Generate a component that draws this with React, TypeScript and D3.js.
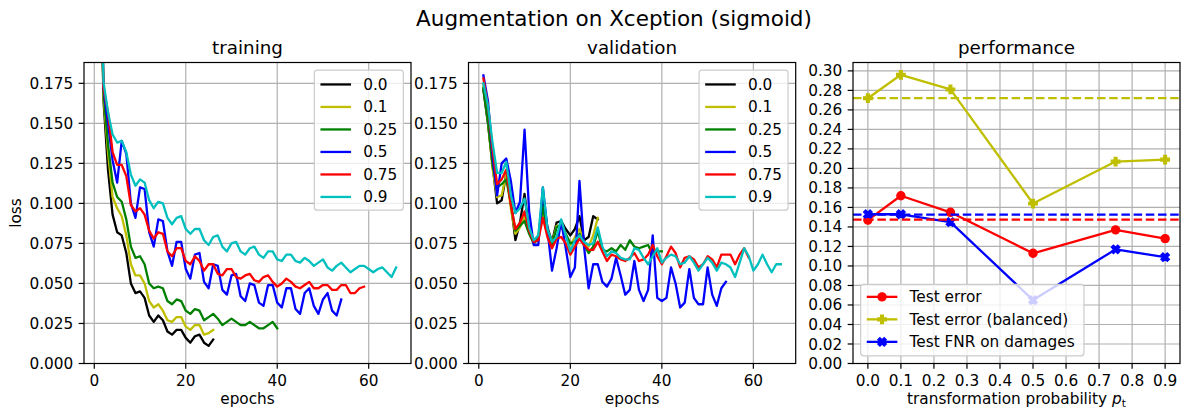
import React from 'react';
import * as d3 from 'd3';

// ---------------- data ----------------
const probLabels = ['0.0', '0.1', '0.25', '0.5', '0.75', '0.9'];
const seriesColors = ['#000000', '#bfbf00', '#008000', '#0000ff', '#ff0000', '#00bfbf'];

const epochTicks = [0, 20, 40, 60];
const lossTicks = [0, 0.025, 0.05, 0.075, 0.1, 0.125, 0.15, 0.175];

// training loss, epochs start at 1
const trainP00 = [0.32, 0.165, 0.121, 0.093, 0.082, 0.080, 0.069, 0.050, 0.044, 0.045, 0.041, 0.030, 0.026, 0.030, 0.027, 0.020, 0.018, 0.021, 0.021, 0.016, 0.013, 0.017, 0.018, 0.013, 0.011, 0.015];
const trainP01 = [0.32, 0.167, 0.132, 0.104, 0.097, 0.092, 0.080, 0.062, 0.055, 0.055, 0.050, 0.039, 0.035, 0.037, 0.033, 0.027, 0.026, 0.029, 0.029, 0.023, 0.021, 0.024, 0.024, 0.018, 0.019, 0.021];
const trainP025 = [0.32, 0.170, 0.137, 0.113, 0.104, 0.101, 0.090, 0.073, 0.066, 0.067, 0.062, 0.050, 0.047, 0.048, 0.047, 0.039, 0.037, 0.040, 0.039, 0.033, 0.031, 0.034, 0.033, 0.027, 0.029, 0.031, 0.028, 0.024, 0.026, 0.028, 0.026, 0.024, 0.024, 0.026, 0.024, 0.022, 0.022, 0.024, 0.026, 0.022];
const trainP05 = [0.33, 0.172, 0.150, 0.127, 0.113, 0.139, 0.131, 0.100, 0.091, 0.110, 0.109, 0.082, 0.073, 0.090, 0.089, 0.070, 0.061, 0.076, 0.076, 0.059, 0.053, 0.068, 0.069, 0.051, 0.047, 0.062, 0.061, 0.046, 0.043, 0.055, 0.056, 0.042, 0.039, 0.050, 0.049, 0.038, 0.036, 0.049, 0.049, 0.038, 0.035, 0.047, 0.047, 0.034, 0.031, 0.044, 0.047, 0.036, 0.031, 0.040, 0.044, 0.033, 0.030, 0.040];
const trainP075 = [0.33, 0.172, 0.157, 0.132, 0.124, 0.124, 0.117, 0.099, 0.095, 0.097, 0.093, 0.083, 0.078, 0.082, 0.081, 0.070, 0.067, 0.072, 0.072, 0.064, 0.062, 0.067, 0.064, 0.058, 0.062, 0.062, 0.056, 0.055, 0.059, 0.059, 0.054, 0.053, 0.055, 0.056, 0.052, 0.051, 0.054, 0.055, 0.051, 0.048, 0.050, 0.053, 0.051, 0.048, 0.047, 0.049, 0.051, 0.047, 0.047, 0.049, 0.049, 0.046, 0.046, 0.049, 0.049, 0.044, 0.044, 0.047, 0.048];
const trainP09 = [0.34, 0.176, 0.157, 0.143, 0.138, 0.139, 0.132, 0.118, 0.111, 0.115, 0.113, 0.102, 0.097, 0.101, 0.100, 0.091, 0.087, 0.091, 0.092, 0.084, 0.081, 0.084, 0.084, 0.077, 0.074, 0.079, 0.080, 0.073, 0.070, 0.075, 0.076, 0.070, 0.068, 0.072, 0.073, 0.068, 0.066, 0.070, 0.070, 0.065, 0.064, 0.068, 0.068, 0.064, 0.063, 0.066, 0.064, 0.061, 0.063, 0.065, 0.060, 0.058, 0.061, 0.063, 0.060, 0.057, 0.059, 0.061, 0.061, 0.059, 0.057, 0.059, 0.060, 0.057, 0.054, 0.060];

// validation loss, epochs start at 1
const valP00 = [0.171, 0.150, 0.124, 0.100, 0.102, 0.119, 0.100, 0.077, 0.088, 0.106, 0.083, 0.076, 0.077, 0.104, 0.085, 0.076, 0.088, 0.089, 0.084, 0.080, 0.084, 0.092, 0.077, 0.079, 0.092, 0.090];
const valP01 = [0.174, 0.151, 0.122, 0.104, 0.105, 0.118, 0.097, 0.081, 0.085, 0.092, 0.083, 0.075, 0.079, 0.094, 0.082, 0.075, 0.086, 0.085, 0.080, 0.074, 0.079, 0.084, 0.076, 0.073, 0.080, 0.091];
const valP025 = [0.172, 0.151, 0.124, 0.110, 0.112, 0.115, 0.100, 0.083, 0.086, 0.089, 0.081, 0.075, 0.078, 0.098, 0.082, 0.074, 0.085, 0.087, 0.081, 0.075, 0.076, 0.081, 0.074, 0.069, 0.073, 0.083, 0.071, 0.070, 0.072, 0.070, 0.074, 0.071, 0.077, 0.073, 0.072, 0.073, 0.074, 0.068, 0.070, 0.070];
const valP05 = [0.180, 0.164, 0.130, 0.105, 0.125, 0.128, 0.114, 0.094, 0.101, 0.146, 0.095, 0.074, 0.074, 0.110, 0.084, 0.058, 0.072, 0.089, 0.072, 0.054, 0.060, 0.114, 0.073, 0.047, 0.062, 0.062, 0.051, 0.048, 0.053, 0.066, 0.055, 0.043, 0.046, 0.064, 0.046, 0.039, 0.046, 0.080, 0.041, 0.039, 0.041, 0.060, 0.050, 0.035, 0.038, 0.059, 0.041, 0.037, 0.037, 0.060, 0.043, 0.036, 0.047, 0.051];
const valP075 = [0.178, 0.161, 0.134, 0.112, 0.115, 0.121, 0.099, 0.084, 0.088, 0.095, 0.083, 0.076, 0.077, 0.091, 0.079, 0.072, 0.078, 0.079, 0.075, 0.068, 0.073, 0.078, 0.074, 0.071, 0.071, 0.076, 0.070, 0.064, 0.068, 0.067, 0.065, 0.064, 0.066, 0.069, 0.064, 0.065, 0.068, 0.074, 0.067, 0.062, 0.067, 0.073, 0.069, 0.060, 0.066, 0.067, 0.065, 0.060, 0.062, 0.067, 0.065, 0.060, 0.068, 0.068, 0.068, 0.062, 0.068, 0.072, 0.066];
const valP09 = [0.175, 0.161, 0.138, 0.119, 0.119, 0.126, 0.105, 0.094, 0.097, 0.103, 0.085, 0.077, 0.080, 0.110, 0.084, 0.076, 0.079, 0.090, 0.080, 0.070, 0.077, 0.080, 0.076, 0.074, 0.075, 0.085, 0.073, 0.067, 0.070, 0.069, 0.066, 0.065, 0.065, 0.072, 0.071, 0.066, 0.062, 0.067, 0.072, 0.063, 0.066, 0.068, 0.067, 0.062, 0.063, 0.067, 0.063, 0.058, 0.062, 0.066, 0.063, 0.058, 0.063, 0.062, 0.060, 0.054, 0.063, 0.072, 0.067, 0.058, 0.062, 0.068, 0.062, 0.057, 0.062, 0.062];

const trainSeries = [trainP00, trainP01, trainP025, trainP05, trainP075, trainP09];
const valSeries = [valP00, valP01, valP025, valP05, valP075, valP09];

// performance
const perfX = [0.0, 0.1, 0.25, 0.5, 0.75, 0.9];
const testError = [0.147, 0.172, 0.155, 0.113, 0.137, 0.128];
const testErrorBalanced = [0.272, 0.296, 0.281, 0.164, 0.207, 0.209];
const testFNR = [0.153, 0.153, 0.145, 0.065, 0.117, 0.109];
const baseError = 0.1476;
const baseBalanced = 0.272;
const baseFNR = 0.1527;
const perfXTicks = [0, 0.1, 0.2, 0.3, 0.4, 0.5, 0.6, 0.7, 0.8, 0.9];
const perfYTicks = [0, 0.02, 0.04, 0.06, 0.08, 0.1, 0.12, 0.14, 0.16, 0.18, 0.2, 0.22, 0.24, 0.26, 0.28, 0.3];
const perfLabels = ['Test error', 'Test error (balanced)', 'Test FNR on damages'];

// ---------------- style / layout ----------------
const W = 1181;
const H = 414;
const FF = "'DejaVu Sans', Verdana, sans-serif";
const FS = 15.3;
const TOP = 62.5;
const BOTTOM = 363.5;
const TICK = 5.35;
const PAD = 5.35;
const LW = 2.3;
const GRID = '#b0b0b0';
const SPINE_W = 1.2;

function TickLabelsY({ x0, ticks, y, fmt }: any) {
  return (
    <g>
      {ticks.map((t: number) => (
        <g key={t}>
          <line x1={x0 - TICK} x2={x0} y1={y(t)} y2={y(t)} stroke="#000" strokeWidth={SPINE_W} />
          <text x={x0 - TICK - PAD} y={y(t)} dy="0.36em" textAnchor="end" fontSize={FS} fontFamily={FF} fill="#000">
            {fmt(t)}
          </text>
        </g>
      ))}
    </g>
  );
}

function TickLabelsX({ ticks, x, fmt }: any) {
  return (
    <g>
      {ticks.map((t: number) => (
        <g key={t}>
          <line x1={x(t)} x2={x(t)} y1={BOTTOM} y2={BOTTOM + TICK} stroke="#000" strokeWidth={SPINE_W} />
          <text x={x(t)} y={BOTTOM + TICK + PAD + 11.4} textAnchor="middle" fontSize={FS} fontFamily={FF} fill="#000">
            {fmt(t)}
          </text>
        </g>
      ))}
    </g>
  );
}

function LossPanel({ left, right, title, series, ylabel, clipId }: any) {
  const x = d3.scaleLinear().domain([-2.25, 69.25]).range([left, right]);
  const y = d3.scaleLinear().domain([0, 0.188]).range([BOTTOM, TOP]);
  const line = d3.line<number>().x((_, i) => x(i + 1)).y((d) => y(d));
  const fmt = d3.format('.3f');
  const lgW = 89;
  const lgH = 140;
  const lgX = right - 7.65 - lgW;
  const lgY = TOP + 7.65;
  return (
    <g>
      <defs>
        <clipPath id={clipId}>
          <rect x={left} y={TOP} width={right - left} height={BOTTOM - TOP} />
        </clipPath>
      </defs>
      {epochTicks.map((t) => (
        <line key={'gx' + t} x1={x(t)} x2={x(t)} y1={TOP} y2={BOTTOM} stroke={GRID} strokeWidth={1.2} />
      ))}
      {lossTicks.map((t) => (
        <line key={'gy' + t} x1={left} x2={right} y1={y(t)} y2={y(t)} stroke={GRID} strokeWidth={1.2} />
      ))}
      <g clipPath={`url(#${clipId})`}>
        {series.map((s: number[], i: number) => (
          <path key={i} d={line(s) || ''} fill="none" stroke={seriesColors[i]} strokeWidth={LW} strokeLinejoin="round" strokeLinecap="square" />
        ))}
      </g>
      <rect x={left} y={TOP} width={right - left} height={BOTTOM - TOP} fill="none" stroke="#000" strokeWidth={SPINE_W} />
      <TickLabelsY x0={left} ticks={lossTicks} y={y} fmt={fmt} />
      <TickLabelsX ticks={epochTicks} x={x} fmt={(t: number) => String(t)} />
      <text x={(left + right) / 2} y={404} textAnchor="middle" fontSize={FS} fontFamily={FF}>epochs</text>
      <text x={(left + right) / 2} y={53.5} textAnchor="middle" fontSize={18.3} fontFamily={FF}>{title}</text>
      {ylabel && (
        <text transform={`translate(20.5, ${(TOP + BOTTOM) / 2}) rotate(-90)`} textAnchor="middle" fontSize={FS} fontFamily={FF}>
          {ylabel}
        </text>
      )}
      {/* legend */}
      <g>
        <rect x={lgX} y={lgY} width={lgW} height={lgH} rx={3} fill="#fff" fillOpacity={0.8} stroke="#cccccc" strokeWidth={1.2} />
        {probLabels.map((lab, i) => {
          const cy = lgY + 14.3 + i * 22.5;
          return (
            <g key={lab}>
              <line x1={lgX + 6.1} x2={lgX + 6.1 + 30.6} y1={cy} y2={cy} stroke={seriesColors[i]} strokeWidth={LW} />
              <text x={lgX + 6.1 + 30.6 + 12.2} y={cy} dy="0.36em" fontSize={FS} fontFamily={FF}>{lab}</text>
            </g>
          );
        })}
      </g>
    </g>
  );
}

function plusPath(cx: number, cy: number, s: number) {
  const a = s / 6;
  const pts = [[-1, -3], [1, -3], [1, -1], [3, -1], [3, 1], [1, 1], [1, 3], [-1, 3], [-1, 1], [-3, 1], [-3, -1], [-1, -1]];
  return 'M' + pts.map((p) => `${cx + p[0] * a},${cy + p[1] * a}`).join('L') + 'Z';
}
function xPath(cx: number, cy: number, s: number) {
  const b = s / 4;
  const pts = [[-1, -2], [0, -1], [1, -2], [2, -1], [1, 0], [2, 1], [1, 2], [0, 1], [-1, 2], [-2, 1], [-1, 0], [-2, -1]];
  return 'M' + pts.map((p) => `${cx + p[0] * b},${cy + p[1] * b}`).join('L') + 'Z';
}

function Marker({ kind, cx, cy, color }: any) {
  if (kind === 'o') return <circle cx={cx} cy={cy} r={4.1} fill={color} stroke={color} strokeWidth={1.2} />;
  if (kind === 'P') return <path d={plusPath(cx, cy, 8.6)} fill={color} stroke={color} strokeWidth={1.2} strokeLinejoin="miter" />;
  return <path d={xPath(cx, cy, 8.6)} fill={color} stroke={color} strokeWidth={1.2} strokeLinejoin="miter" />;
}

function PerfPanel({ left, right }: any) {
  const x = d3.scaleLinear().domain([-0.045, 0.945]).range([left, right]);
  const y = d3.scaleLinear().domain([0, 0.3086]).range([BOTTOM, TOP]);
  const defs = [
    { vals: testError, color: '#ff0000', marker: 'o', base: baseError },
    { vals: testErrorBalanced, color: '#bfbf00', marker: 'P', base: baseBalanced },
    { vals: testFNR, color: '#0000ff', marker: 'X', base: baseFNR },
  ];
  const line = d3.line<number>().x((_, i) => x(perfX[i])).y((d) => y(d));
  const lgX = left + 7.65;
  const lgW = 223.3;
  const lgH = 71.5;
  const lgY = BOTTOM - 7.65 - lgH;
  return (
    <g>
      {perfXTicks.map((t) => (
        <line key={'gx' + t} x1={x(t)} x2={x(t)} y1={TOP} y2={BOTTOM} stroke={GRID} strokeWidth={1.2} />
      ))}
      {perfYTicks.map((t) => (
        <line key={'gy' + t} x1={left} x2={right} y1={y(t)} y2={y(t)} stroke={GRID} strokeWidth={1.2} />
      ))}
      {defs.map((d, k) => (
        <g key={k}>
          <path d={line(d.vals) || ''} fill="none" stroke={d.color} strokeWidth={LW} strokeLinejoin="round" />
          {d.vals.map((v, i) => (
            <Marker key={i} kind={d.marker} cx={x(perfX[i])} cy={y(v)} color={d.color} />
          ))}
        </g>
      ))}
      {defs.map((d, k) => (
        <line key={'b' + k} x1={left} x2={right} y1={y(d.base)} y2={y(d.base)} stroke={d.color} strokeWidth={LW} strokeDasharray="8.5,3.7" />
      ))}
      <rect x={left} y={TOP} width={right - left} height={BOTTOM - TOP} fill="none" stroke="#000" strokeWidth={SPINE_W} />
      <TickLabelsY x0={left} ticks={perfYTicks} y={y} fmt={d3.format('.2f')} />
      <TickLabelsX ticks={perfXTicks} x={x} fmt={d3.format('.1f')} />
      <text x={(left + right) / 2} y={404} textAnchor="middle" fontSize={FS} fontFamily={FF}>
        transformation probability <tspan fontStyle="italic">p</tspan>
        <tspan fontSize={FS * 0.7} dy={3}>t</tspan>
      </text>
      <text x={(left + right) / 2} y={53.5} textAnchor="middle" fontSize={18.3} fontFamily={FF}>performance</text>
      <g>
        <rect x={lgX} y={lgY} width={lgW} height={lgH} rx={3} fill="#fff" fillOpacity={0.8} stroke="#cccccc" strokeWidth={1.2} />
        {defs.map((d, i) => {
          const cy = lgY + 12.5 + i * 22.5;
          const hx = lgX + 6.1;
          return (
            <g key={i}>
              <line x1={hx} x2={hx + 30.6} y1={cy} y2={cy} stroke={d.color} strokeWidth={LW} />
              <Marker kind={d.marker} cx={hx + 15.3} cy={cy} color={d.color} />
              <text x={hx + 30.6 + 12.2} y={cy} dy="0.36em" fontSize={FS} fontFamily={FF}>{perfLabels[i]}</text>
            </g>
          );
        })}
      </g>
    </g>
  );
}

export default function App() {
  return (
    <svg width={W} height={H} viewBox={`0 0 ${W} ${H}`} style={{ position: 'absolute', left: 0, top: 0, background: '#fff' }}>
      <rect x={0} y={0} width={W} height={H} fill="#fff" />
      <text x={614} y={26} textAnchor="middle" fontSize={21.5} fontFamily={FF}>Augmentation on Xception (sigmoid)</text>
      <LossPanel left={84} right={411} title="training" series={trainSeries} ylabel="loss" clipId="clipTrain" />
      <LossPanel left={468.5} right={795.7} title="validation" series={valSeries} clipId="clipVal" />
      <PerfPanel left={853} right={1180} />
    </svg>
  );
}
